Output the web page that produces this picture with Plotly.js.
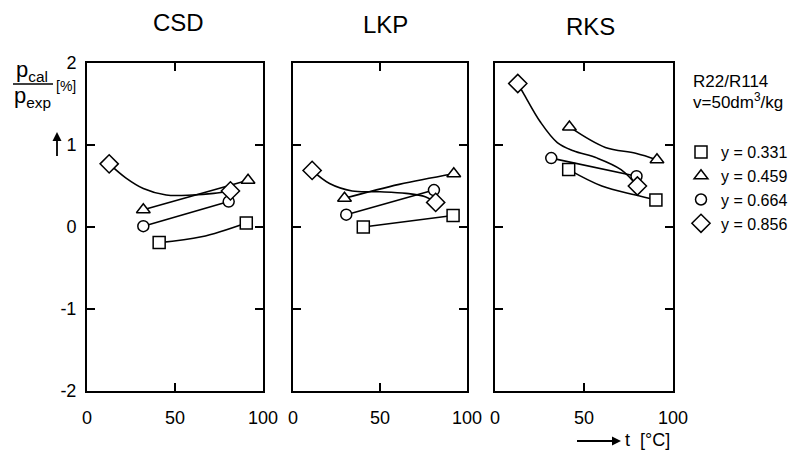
<!DOCTYPE html>
<html><head><meta charset="utf-8">
<script src="https://cdn.plot.ly/plotly-3.0.1.min.js"></script>
<style>html,body{margin:0;padding:0;background:#fff;}#chart{width:810px;height:458px;}</style>
</head><body><div id="chart"></div>
<script>
// ---- data ----
const panelNames = ['CSD', 'LKP', 'RKS'];
const seriesLabels = ['y = 0.331', 'y = 0.459', 'y = 0.664', 'y = 0.856'];
const tempTicks = [0, 50, 100];
const devTicks = [-2, -1, 0, 1, 2];
const devTickText = ['-2', '-1', '0', '1', '2'];

// CSD measured points (t in °C, deviation in %)
const csdSquareT = [41, 90.5],   csdSquareV = [-0.19, 0.05];
const csdTriT = [32, 91.5],      csdTriV = [0.21, 0.57];
const csdCircT = [32, 80.5],     csdCircV = [0.01, 0.31];
const csdDiaT = [12.6, 81.5],    csdDiaV = [0.77, 0.44];
// CSD drawn curves
const csdSquareCurveT = [41, 65, 90.5],  csdSquareCurveV = [-0.19, -0.12, 0.05];
const csdTriCurveT = [32, 91.5],         csdTriCurveV = [0.21, 0.57];
const csdCircCurveT = [32, 80.5],        csdCircCurveV = [0.01, 0.31];
const csdDiaCurveT = [12.6, 22, 32, 45, 60, 72, 81.5];
const csdDiaCurveV = [0.77, 0.60, 0.47, 0.39, 0.39, 0.41, 0.44];

// LKP measured points
const lkpSquareT = [40.4, 92],   lkpSquareV = [0.0, 0.14];
const lkpTriT = [29.6, 92.4],    lkpTriV = [0.35, 0.65];
const lkpCircT = [30.6, 81],     lkpCircV = [0.15, 0.45];
const lkpDiaT = [11, 82],        lkpDiaV = [0.69, 0.30];
// LKP drawn curves
const lkpSquareCurveT = [40.4, 92],      lkpSquareCurveV = [0.0, 0.14];
const lkpTriCurveT = [29.6, 61, 92.4],   lkpTriCurveV = [0.35, 0.52, 0.65];
const lkpCircCurveT = [30.6, 81],        lkpCircCurveV = [0.15, 0.45];
const lkpDiaCurveT = [11, 21, 34, 50, 65, 76, 82];
const lkpDiaCurveV = [0.69, 0.53, 0.44, 0.43, 0.41, 0.37, 0.30];

// RKS measured points
const rksSquareT = [41.4, 90.4], rksSquareV = [0.70, 0.33];
const rksTriT = [41.8, 91],      rksTriV = [1.22, 0.82];
const rksCircT = [31.6, 79.5],   rksCircV = [0.84, 0.62];
const rksDiaT = [12.8, 80],      rksDiaV = [1.75, 0.50];
// RKS drawn curves
const rksSquareCurveT = [41.4, 60, 79, 90.4],  rksSquareCurveV = [0.70, 0.50, 0.39, 0.33];
const rksTriCurveT = [41.8, 62, 79, 91],       rksTriCurveV = [1.22, 0.97, 0.90, 0.82];
const rksCircCurveT = [31.6, 79.5],            rksCircCurveV = [0.84, 0.62];
const rksDiaCurveT = [12.8, 16, 25.5, 35, 44, 57.5, 70.8, 80];
const rksDiaCurveV = [1.75, 1.63, 1.28, 1.03, 0.93, 0.84, 0.70, 0.50];

// ---- build ----
const W = 810, H = 458;
const FONT = '"Liberation Sans", Arial, sans-serif';
const px = v => v / W;
const py = v => 1 - v / H;

const symbols = ['square', 'triangle-up', 'circle', 'diamond'];
const sizes = [12, 12, 11, 14];

const panels = [
  {
    marks: [[csdSquareT, csdSquareV], [csdTriT, csdTriV], [csdCircT, csdCircV], [csdDiaT, csdDiaV]],
    curves: [[csdSquareCurveT, csdSquareCurveV], [csdTriCurveT, csdTriCurveV], [csdCircCurveT, csdCircCurveV], [csdDiaCurveT, csdDiaCurveV]]
  },
  {
    marks: [[lkpSquareT, lkpSquareV], [lkpTriT, lkpTriV], [lkpCircT, lkpCircV], [lkpDiaT, lkpDiaV]],
    curves: [[lkpSquareCurveT, lkpSquareCurveV], [lkpTriCurveT, lkpTriCurveV], [lkpCircCurveT, lkpCircCurveV], [lkpDiaCurveT, lkpDiaCurveV]]
  },
  {
    marks: [[rksSquareT, rksSquareV], [rksTriT, rksTriV], [rksCircT, rksCircV], [rksDiaT, rksDiaV]],
    curves: [[rksSquareCurveT, rksSquareCurveV], [rksTriCurveT, rksTriCurveV], [rksCircCurveT, rksCircCurveV], [rksDiaCurveT, rksDiaCurveV]]
  }
];

const traces = [];
panels.forEach((p, i) => {
  const xa = i === 0 ? 'x' : 'x' + (i + 1);
  const ya = i === 0 ? 'y' : 'y' + (i + 1);
  p.curves.forEach((c) => {
    traces.push({
      x: c[0], y: c[1], xaxis: xa, yaxis: ya, mode: 'lines',
      line: {color: '#000', width: 1.6, shape: 'spline', smoothing: 1.0},
      showlegend: false, hoverinfo: 'skip'
    });
  });
});
panels.forEach((p, i) => {
  const xa = i === 0 ? 'x' : 'x' + (i + 1);
  const ya = i === 0 ? 'y' : 'y' + (i + 1);
  p.marks.forEach((m, s) => {
    traces.push({
      x: m[0], y: m[1], xaxis: xa, yaxis: ya, mode: 'markers',
      name: seriesLabels[s], legendgroup: 'g' + s, showlegend: i === 0,
      marker: {symbol: symbols[s], size: sizes[s], color: '#fff', line: {color: '#000', width: 1.5}}
    });
  });
});

const domainsX = [[px(87), px(263)], [px(293), px(467)], [px(495), px(673)]];
const yDomain = [py(391), py(63)];

const layout = {
  width: W, height: H,
  margin: {l: 0, r: 0, t: 0, b: 0},
  paper_bgcolor: '#fff', plot_bgcolor: '#fff',
  font: {family: FONT, color: '#000', size: 18},
  showlegend: true,
  legend: {
    x: px(681), y: py(135), xanchor: 'left', yanchor: 'top',
    font: {family: FONT, size: 16, color: '#000'},
    bgcolor: 'rgba(0,0,0,0)', borderwidth: 0, tracegroupgap: 0
  },
  annotations: [],
  shapes: []
};

for (let i = 0; i < 3; i++) {
  const sfx = i === 0 ? '' : String(i + 1);
  layout['xaxis' + sfx] = {
    domain: domainsX[i], range: [0, 100], anchor: 'y' + sfx,
    tickvals: tempTicks, ticktext: tempTicks.map(String),
    ticks: 'inside', ticklen: 8, tickwidth: 2, tickcolor: '#000',
    showline: true, linewidth: 2, linecolor: '#000', mirror: 'ticks',
    showgrid: false, zeroline: false, ticklabelstandoff: 9,
    tickfont: {family: FONT, size: 18, color: '#000'}, fixedrange: true
  };
  layout['yaxis' + sfx] = {
    domain: yDomain, range: [-2, 2], anchor: 'x' + sfx,
    tickvals: devTicks, ticktext: devTickText, showticklabels: i === 0,
    ticks: 'inside', ticklen: 8, tickwidth: 2, tickcolor: '#000',
    showline: true, linewidth: 2, linecolor: '#000', mirror: 'ticks',
    showgrid: false, zeroline: false, ticklabelstandoff: 5,
    tickfont: {family: FONT, size: 18, color: '#000'}, fixedrange: true
  };
}

// panel titles
const titleX = [178, 385, 590];
const titleY = [22, 24, 27];
panelNames.forEach((n, i) => {
  layout.annotations.push({
    text: n, xref: 'paper', yref: 'paper', x: px(titleX[i]), y: py(titleY[i]),
    xanchor: 'center', yanchor: 'middle', showarrow: false,
    font: {family: FONT, size: 24, color: '#000'}
  });
});

// y-axis label: p_cal / p_exp [%]
layout.annotations.push(
  {text: 'p<sub>cal</sub>', xref: 'paper', yref: 'paper', x: px(32), y: py(71), xanchor: 'center', yanchor: 'middle', showarrow: false, font: {family: FONT, size: 22}},
  {text: 'p<sub>exp</sub>', xref: 'paper', yref: 'paper', x: px(32), y: py(97), xanchor: 'center', yanchor: 'middle', showarrow: false, font: {family: FONT, size: 22}},
  {text: '[%]', xref: 'paper', yref: 'paper', x: px(66), y: py(86), xanchor: 'center', yanchor: 'middle', showarrow: false, font: {family: FONT, size: 14}},
  {text: ' ', xref: 'paper', yref: 'paper', x: px(57), y: py(132), ax: 0, ay: 28, showarrow: true, arrowhead: 2, arrowsize: 1, arrowwidth: 1.8, arrowcolor: '#000', font: {size: 4}}
);
layout.shapes.push({type: 'line', xref: 'paper', yref: 'paper', x0: px(13), x1: px(53), y0: py(84), y1: py(84), line: {color: '#000', width: 1.5}});

// x-axis label: --> t [°C]
layout.annotations.push(
  {text: ' ', xref: 'paper', yref: 'paper', x: px(621), y: py(441), ax: -46, ay: 0, showarrow: true, arrowhead: 2, arrowsize: 1, arrowwidth: 1.8, arrowcolor: '#000', font: {size: 4}},
  {text: 't  [°C]', xref: 'paper', yref: 'paper', x: px(623), y: py(440), xanchor: 'left', yanchor: 'middle', showarrow: false, font: {family: FONT, size: 18}}
);

// legend header
layout.annotations.push(
  {text: 'R22/R114', xref: 'paper', yref: 'paper', x: px(691), y: py(81), xanchor: 'left', yanchor: 'middle', showarrow: false, font: {family: FONT, size: 17}},
  {text: 'v=50dm<sup>3</sup>/kg', xref: 'paper', yref: 'paper', x: px(691), y: py(101), xanchor: 'left', yanchor: 'middle', showarrow: false, font: {family: FONT, size: 17}}
);

Plotly.newPlot('chart', traces, layout, {staticPlot: true, displayModeBar: false});
</script>
</body></html>
